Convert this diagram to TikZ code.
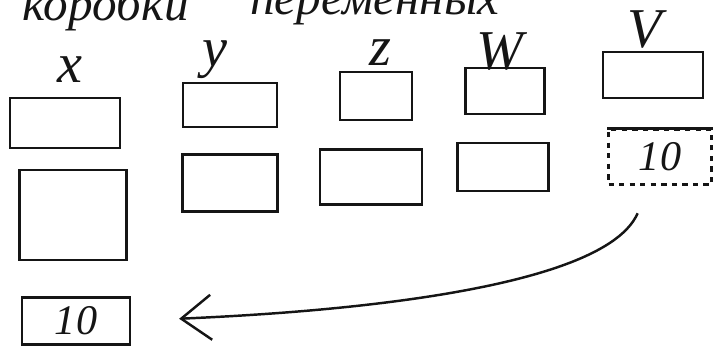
\documentclass[tikz,border=0pt]{standalone}
\usepackage{fontspec}
\setmainfont{Liberation Serif}
\usetikzlibrary{arrows.meta}
\definecolor{ink}{HTML}{151515}

\begin{document}
\begin{tikzpicture}[x=0.02cm,y=-0.02cm,
      cell/.style={draw=ink,line width=1.4pt,inner sep=0pt,text=ink,
                   font=\itshape\fontsize{24}{26}\selectfont},
      lbl/.style={text=ink,inner sep=0pt,font=\itshape\fontsize{32}{34}\selectfont},
      head/.style={text=ink,inner sep=0pt,anchor=base west,
                   font=\itshape\fontsize{28}{30}\selectfont}]
    \clip (0,0) rectangle (715,348);
    % heading, running up to the top edge
    \node[head] (t1) at (22,21) {коробки};
    \node[head] (t2) at (250,15) {переменных};
    % variable names
    \foreach \t/\lx/\ly in {x/70/70,y/215/60,z/380/53,W/500/52,V/645/30}
      \node[lbl] (l\t) at (\lx,\ly) {\t};
    % boxes: name / centre / size in cm
    \foreach \n/\cx/\cy/\w/\h in {x1/65/123/2.2/1.0,y1/230/105/1.88/0.88,
        z1/376/96/1.44/0.96,w1/505/91/1.58/0.92,v1/653/75/2.0/0.92,
        x2/73/215/2.14/1.8,y2/230/183/1.9/1.14,z2/371/177/2.04/1.1,
        w2/503/167/1.82/0.96}
      \node[cell,minimum width=\w cm,minimum height=\h cm] (\n) at (\cx,\cy) {};
    \node[cell,dashed,minimum width=2.06cm,minimum height=1.1cm] (v2) at (660,157) {10};
    \draw[ink,line width=1.4pt] (v2.north west) -- (v2.north east);
    \node[cell,minimum width=2.16cm,minimum height=0.94cm] (x3) at (76,321) {10};
    \draw[ink,line width=1.4pt,-{Straight Barb[length=0.6cm,width=0.9cm]},
          shorten <=0.6cm,shorten >=0.96cm]
      (v2.250) .. controls (600,300) and (260,315) .. (x3.east);
  \end{tikzpicture}
\end{document}
